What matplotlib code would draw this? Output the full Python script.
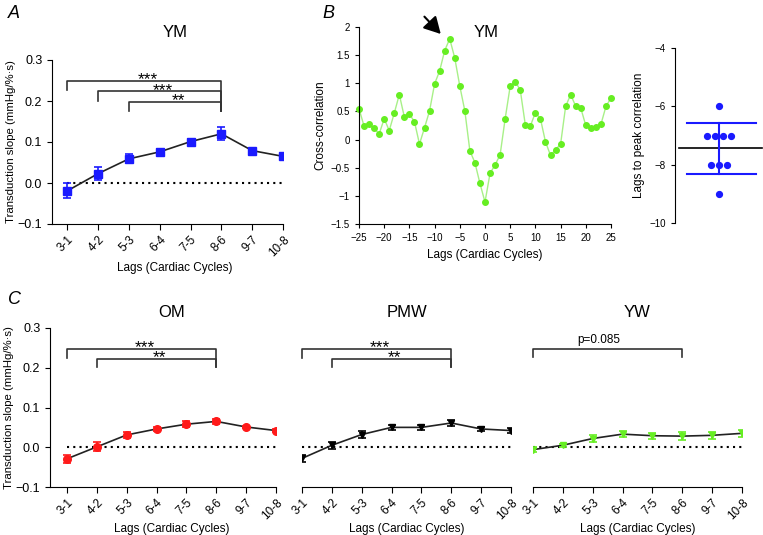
import numpy as np
import matplotlib
matplotlib.use('Agg')
from matplotlib import pyplot as plt

plt.rcParams['font.family'] = ['Liberation Sans', 'DejaVu Sans']

lags = ['3-1', '4-2', '5-3', '6-4', '7-5', '8-6', '9-7', '10-8']

ym_mean = [-0.019, 0.023, 0.059, 0.076, 0.101, 0.120, 0.079, 0.065]
ym_err = [0.018, 0.016, 0.011, 0.007, 0.006, 0.016, 0.004, 0.004]
om_mean = [-0.029, 0.001, 0.031, 0.046, 0.058, 0.065, 0.051, 0.042]
om_err = [0.010, 0.011, 0.008, 0.006, 0.007, 0.007, 0.003, 0.003]
pmw_mean = [-0.028, 0.005, 0.032, 0.050, 0.050, 0.061, 0.046, 0.042]
pmw_err = [0.009, 0.009, 0.008, 0.006, 0.006, 0.007, 0.006, 0.006]
yw_mean = [-0.006, 0.005, 0.022, 0.033, 0.029, 0.028, 0.030, 0.035]
yw_err = [0.006, 0.004, 0.009, 0.007, 0.008, 0.010, 0.008, 0.009]

xc_lags = list(range(-25, 26))
xc_vals = [0.55, 0.24, 0.27, 0.20, 0.10, 0.37, 0.16, 0.47, 0.80, 0.40,
           0.45, 0.32, -0.08, 0.21, 0.51, 0.99, 1.22, 1.58, 1.79, 1.45,
           0.95, 0.51, -0.20, -0.41, -0.78, -1.11, -0.60, -0.45, -0.27, 0.37,
           0.95, 1.03, 0.88, 0.26, 0.24, 0.48, 0.37, -0.04, -0.28, -0.18,
           -0.08, 0.59, 0.80, 0.59, 0.56, 0.25, 0.20, 0.23, 0.27, 0.59, 0.74]

peak_lags = [-6, -7, -7, -7, -7, -8, -8, -8, -9]

# (start index, end index, bracket y, left drop, right drop, label)
ym_brackets = [(0, 5, 0.250, 0.226, 0.175, '***'),
               (1, 5, 0.224, 0.199, 0.175, '***'),
               (2, 5, 0.198, 0.175, 0.175, '**')]
c_brackets = [(0, 5, 0.248, 0.225, 0.202, '***'),
              (1, 5, 0.223, 0.202, 0.202, '**')]
yw_brackets = [(0, 5, 0.248, 0.227, 0.227, 'p=0.085')]

BLUE = '#1a1aff'
RED = '#ff1a1a'
GREEN = '#66ee22'
LIGHTGREEN = '#a8f088'

W, H = 763, 535
fig = plt.figure(figsize=(W / 100, H / 100), dpi=100)


def box(l, r, t, b):
    return [l / W, (H - b) / H, (r - l) / W, (b - t) / H]


def slope_panel(ax, mean, err, color, marker, ms, brackets, title, yaxis=True,
                xleft=-0.5, title_y=0.338, label_y=-0.226):
    x = np.arange(len(lags))
    ax.plot([0, 7], [0, 0], ls=(0, (1, 2)), color='black', lw=1.5, zorder=1)
    ax.plot(x, mean, color='#222222', lw=1.2, zorder=2)
    ax.errorbar(x, mean, yerr=err, fmt=marker, color=color, ms=ms,
                ecolor=color, elinewidth=1.2, capsize=3, capthick=1.2, zorder=3)
    for i0, i1, yb, yl, yr, lab in brackets:
        ax.plot([i0, i0, i1, i1], [yl, yb, yb, yr], color='#333333', lw=1.2,
                clip_on=False)
        if lab.startswith('p'):
            ax.text((i0 + i1) / 2 - 0.3, yb + 0.006, lab, ha='center',
                    va='bottom', fontsize=8.5)
        else:
            ax.text((i0 + i1) / 2 + 0.1, yb - 0.016, lab, ha='center',
                    va='bottom', fontsize=12.5)
    ax.set_xlim(xleft, 7)
    ax.set_ylim(-0.1, 0.3)
    ax.set_xticks(x)
    ax.set_xticklabels(lags, rotation=45, ha='right', rotation_mode='anchor',
                       fontsize=8.5)
    ax.tick_params(axis='x', pad=3, length=4)
    ax.set_xlabel('Lags (Cardiac Cycles)', fontsize=8.5)
    ax.xaxis.set_label_coords((3.5 - xleft) / (7 - xleft), label_y)
    for s in ['top', 'right']:
        ax.spines[s].set_visible(False)
    if yaxis:
        ax.set_yticks([-0.1, 0.0, 0.1, 0.2, 0.3])
        ax.set_yticklabels(['\u22120.1', '0.0', '0.1', '0.2', '0.3'], fontsize=9)
        ax.set_ylabel('Transduction slope (mmHg/%\u00b7s)', fontsize=8.2,
                      labelpad=1)
    else:
        ax.spines['left'].set_visible(False)
        ax.set_yticks([])
        ax.spines['bottom'].set_bounds(0, 7)
    ax.text(3.5, title_y, title, ha='center', va='center', fontsize=12,
            clip_on=False)


# Panel A
axA = fig.add_axes(box(52, 283, 60, 224))
slope_panel(axA, ym_mean, ym_err, BLUE, 's', 6, ym_brackets, 'YM',
            title_y=0.368, label_y=-0.232)

# Panel B: cross-correlation
axB = fig.add_axes(box(359, 611, 27, 224))
axB.plot(xc_lags, xc_vals, color=LIGHTGREEN, lw=1, zorder=1)
axB.plot(xc_lags, xc_vals, 'o', color=GREEN, ms=4, zorder=2, clip_on=False)
axB.set_xlim(-25, 25)
axB.set_ylim(-1.5, 2)
axB.set_xticks(range(-25, 26, 5))
axB.set_xticklabels([str(v).replace('-', '\u2212') for v in range(-25, 26, 5)],
                    fontsize=7)
axB.set_yticks([-1.5, -1, -0.5, 0, 0.5, 1, 1.5, 2])
axB.set_yticklabels(['\u22121.5', '\u22121', '\u22120.5', '0', '0.5', '1',
                     '1.5', '2'], fontsize=7)
axB.tick_params(length=3)
axB.set_xlabel('Lags (Cardiac Cycles)', fontsize=8.5, labelpad=4)
axB.set_ylabel('Cross-correlation', fontsize=8.5, labelpad=3)
for s in ['top', 'right']:
    axB.spines[s].set_visible(False)
axB.text(0.2, 1.91, 'YM', ha='center', va='center', fontsize=12)
axB.annotate('', xy=(-8.4, 1.84), xytext=(-12.4, 2.22),
             arrowprops=dict(arrowstyle='-|>,head_length=1.0,head_width=0.55',
                             color='black', lw=1.5),
             annotation_clip=False)

# Panel B inset: lags to peak correlation
axP = fig.add_axes(box(675, 763, 48, 223))
vals, counts = np.unique(peak_lags, return_counts=True)
for v, c in zip(vals, counts):
    offs = (np.arange(c) - (c - 1) / 2) * 0.185
    axP.plot(offs, [v] * c, 'o', color=BLUE, ms=4.2, zorder=3)
m = np.mean(peak_lags)
sd = np.std(peak_lags, ddof=1)
axP.plot([-0.9, 0.97], [m, m], color='black', lw=1.2)
axP.plot([-0.72, 0.83], [m + sd, m + sd], color=BLUE, lw=1.5)
axP.plot([-0.72, 0.83], [m - sd, m - sd], color=BLUE, lw=1.5)
axP.plot([0, 0], [m - sd, m + sd], color=BLUE, lw=1.5)
axP.set_xlim(-1, 1)
axP.set_ylim(-10, -4)
axP.set_xticks([])
axP.set_yticks([-10, -8, -6, -4])
axP.set_yticklabels(['\u221210', '\u22128', '\u22126', '\u22124'], fontsize=7)
axP.tick_params(length=3)
axP.set_ylabel('Lags to peak correlation', fontsize=8.5, labelpad=3)
for s in ['top', 'right', 'bottom']:
    axP.spines[s].set_visible(False)

# Panel C
axOM = fig.add_axes(box(50, 276, 328, 487))
slope_panel(axOM, om_mean, om_err, RED, 'o', 5.5, c_brackets, 'OM',
            xleft=-0.57)
axPMW = fig.add_axes(box(302, 511, 328, 487))
slope_panel(axPMW, pmw_mean, pmw_err, 'black', 'v', 4, c_brackets, 'PMW',
            yaxis=False, xleft=0)
axYW = fig.add_axes(box(533, 742, 328, 487))
slope_panel(axYW, yw_mean, yw_err, GREEN, 'v', 4, yw_brackets, 'YW',
            yaxis=False, xleft=0)

fig.text(8 / W, 1 - 13 / H, 'A', fontsize=13, style='italic', va='center')
fig.text(322 / W, 1 - 13 / H, 'B', fontsize=13, style='italic', va='center')
fig.text(8 / W, 1 - 299 / H, 'C', fontsize=13, style='italic', va='center')

fig.savefig('out.png', dpi=100)
